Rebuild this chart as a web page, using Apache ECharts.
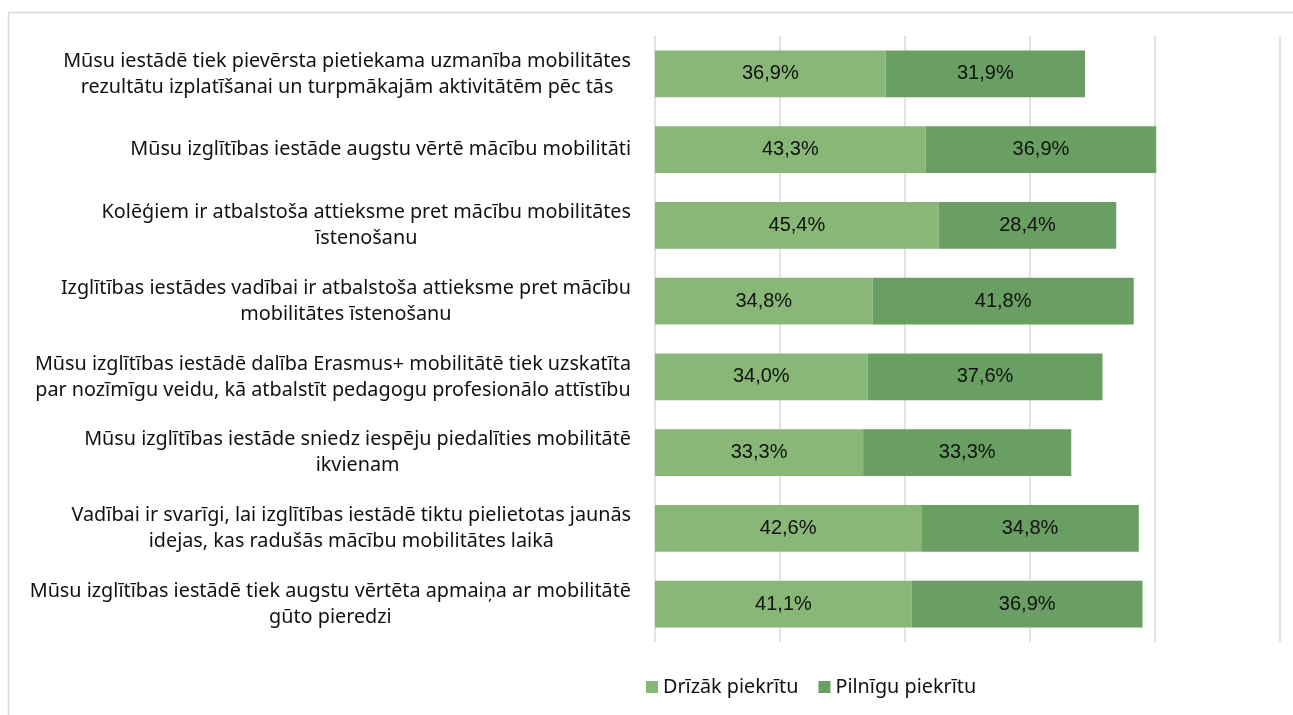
<!DOCTYPE html>
<html>
<head>
<meta charset="utf-8">
<script src="https://cdn.jsdelivr.net/npm/echarts@6/dist/echarts.min.js"></script>
<style>
  html, body { margin: 0; padding: 0; background: #fff; }
  #main { width: 1293px; height: 715px; }
</style>
</head>
<body>
<div id="main"></div>
<script>
// kategorijas (no augšas uz leju)
var categories = [
  "Mūsu iestādē tiek pievērsta pietiekama uzmanība mobilitātes\nrezultātu izplatīšanai un turpmākajām aktivitātēm pēc tās",
  "Mūsu izglītības iestāde augstu vērtē mācību mobilitāti",
  "Kolēģiem ir atbalstoša attieksme pret mācību mobilitātes\nīstenošanu",
  "Izglītības iestādes vadībai ir atbalstoša attieksme pret mācību\nmobilitātes īstenošanu",
  "Mūsu izglītības iestādē dalība Erasmus+ mobilitātē tiek uzskatīta\npar nozīmīgu veidu, kā atbalstīt pedagogu profesionālo attīstību",
  "Mūsu izglītības iestāde sniedz iespēju piedalīties mobilitātē\nikvienam",
  "Vadībai ir svarīgi, lai izglītības iestādē tiktu pielietotas jaunās\nidejas, kas radušās mācību mobilitātes laikā",
  "Mūsu izglītības iestādē tiek augstu vērtēta apmaiņa ar mobilitātē\ngūto pieredzi"
];
var seriesNames = ["Drīzāk piekrītu", "Pilnīgu piekrītu"];
var drizak = [36.9, 43.3, 45.4, 34.8, 34.0, 33.3, 42.6, 41.1];
var pilnigi = [31.9, 36.9, 28.4, 41.8, 37.6, 33.3, 34.8, 36.9];

var font = "Noto Sans";
var chart = echarts.init(document.getElementById("main"));

function pct(p) {
  return p.value.toFixed(1).replace(".", ",") + "%";
}

var dataLabel = {
  show: true,
  position: "inside",
  formatter: pct,
  color: "#111",
  fontFamily: "Liberation Sans",
  fontSize: 20
};

var option = {
  animation: false,
  graphic: [
    {
      type: "rect",
      shape: { x: 8.5, y: 12.5, width: 1300, height: 720 },
      style: { fill: "none", stroke: "#d9d9d9", lineWidth: 1.5 }
    }
  ],
  grid: { left: 655, right: 13, top: 36, bottom: 73, containLabel: false },
  xAxis: {
    type: "value",
    min: 0,
    max: 100,
    interval: 20,
    axisLabel: { show: false },
    axisLine: { show: false },
    axisTick: { show: false },
    splitLine: { lineStyle: { color: "#d9d9d9", width: 1.5 } }
  },
  yAxis: {
    type: "category",
    inverse: true,
    data: categories,
    axisLine: { show: false },
    axisTick: { show: false },
    axisLabel: {
      margin: 24,
      align: "right",
      // rindas centrētas bloka iekšienē
      formatter: function (v) {
        return v.split("\n").map(function (s) { return "{c|" + s + "}"; }).join("\n");
      },
      rich: {
        c: {
          align: "center",
          color: "#111",
          fontFamily: font,
          fontSize: 19.8,
          lineHeight: 26
        }
      }
    }
  },
  legend: {
    bottom: 13,
    left: 641,
    itemWidth: 12,
    itemHeight: 12,
    itemGap: 20,
    icon: "rect",
    textStyle: { fontFamily: font, fontSize: 19.8, color: "#111" },
    data: seriesNames
  },
  series: [
    {
      name: seriesNames[0],
      type: "bar",
      stack: "a",
      data: drizak,
      barCategoryGap: "38%",
      itemStyle: { color: "#88b777" },
      label: dataLabel
    },
    {
      name: seriesNames[1],
      type: "bar",
      stack: "a",
      data: pilnigi,
      itemStyle: { color: "#699f62" },
      label: dataLabel
    }
  ]
};
chart.setOption(option);
</script>
</body>
</html>
